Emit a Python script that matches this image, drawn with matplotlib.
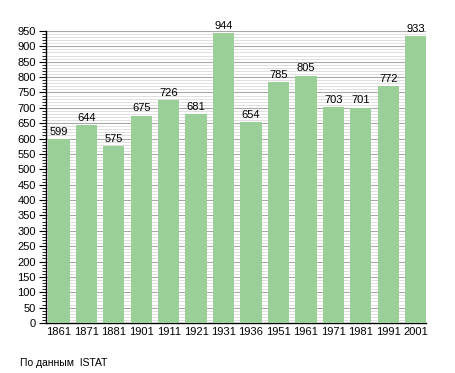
import matplotlib
matplotlib.use("Agg")
import matplotlib.pyplot as plt
from matplotlib.ticker import MultipleLocator

years = ["1861", "1871", "1881", "1901", "1911", "1921", "1931", "1936",
         "1951", "1961", "1971", "1981", "1991", "2001"]
population = [599, 644, 575, 675, 726, 681, 944, 654, 785, 805, 703, 701, 772, 933]
source_text = "По данным  ISTAT"

plt.rcParams['font.family'] = ['Liberation Sans', 'DejaVu Sans']

fig = plt.figure(figsize=(4.55, 3.73), dpi=100)
ax = fig.add_axes([0.1004, 0.134, 0.836, 0.783])

x = list(range(len(years)))
ax.bar(x, population, width=0.776, color="#9BCF98", zorder=3)

ax.set_ylim(0, 950)
ax.set_xlim(-0.48, len(years) - 1 + 0.38)
ax.yaxis.set_major_locator(MultipleLocator(50))
ax.yaxis.set_minor_locator(MultipleLocator(10))
ax.grid(which="major", axis="y", color="#a8a8a8", linewidth=0.8, zorder=1)
ax.grid(which="minor", axis="y", color="#dedede", linewidth=0.7, zorder=0)

ax.set_xticks(x)
ax.set_xticklabels(years, fontsize=8)
ax.tick_params(axis="x", length=0, pad=3)
ax.tick_params(axis="y", which="major", length=5, width=0.8, labelsize=8, pad=2)
ax.tick_params(axis="y", which="minor", length=3, width=0.6)

for s in ["top", "right"]:
    ax.spines[s].set_visible(False)
for s in ["left", "bottom"]:
    ax.spines[s].set_color("black")
    ax.spines[s].set_linewidth(1.0)

for xi, v in zip(x, population):
    ax.annotate(str(v), (xi, v), xytext=(0, 1.5), textcoords="offset points",
                ha="center", va="bottom", fontsize=8, clip_on=False, zorder=4)

fig.text(20 / 455, 1 - 363 / 373, source_text, fontsize=7.5, ha="left", va="center")

fig.savefig("out.png", dpi=100)
